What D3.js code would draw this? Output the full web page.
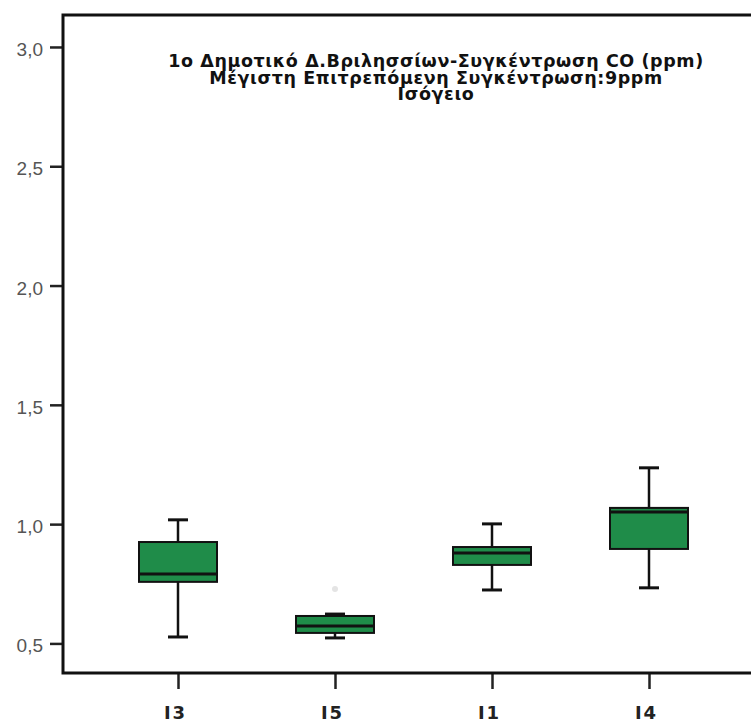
<!DOCTYPE html>
<html>
<head>
<meta charset="utf-8">
<script src="https://cdn.jsdelivr.net/npm/d3@7"></script>
<style>
  html, body { margin: 0; padding: 0; background: #fff; }
  svg { display: block; }
</style>
</head>
<body>
<div id="chart"></div>
<script>
const categories = ["I3", "I5", "I1", "I4"];
const whiskerLow  = [0.527, 0.523, 0.724, 0.733];
const q1          = [0.758, 0.544, 0.829, 0.896];
const median      = [0.791, 0.573, 0.879, 1.051];
const q3          = [0.925, 0.615, 0.904, 1.068];
const whiskerHigh = [1.018, 0.623, 1.001, 1.236];
const outliers    = [{cat: "I5", value: 0.728}];
const yTicks      = [0.5, 1.0, 1.5, 2.0, 2.5, 3.0];
const titleLines  = [
  "1ο Δημοτικό Δ.Βριλησσίων-Συγκέντρωση CO (ppm)",
  "Μέγιστη Επιτρεπόμενη Συγκέντρωση:9ppm",
  "Ισόγειο"
];

const W = 751, H = 724;
const plotLeft = 63, plotTop = 15, plotBottom = 673;

const svg = d3.select("#chart").append("svg")
  .attr("width", W).attr("height", H);

const y = d3.scaleLinear().domain([0.376, 3.134]).range([plotBottom, plotTop]);
const x = d3.scalePoint().domain(categories).range([178, 649]);

const data = categories.map((c, i) => ({
  cat: c, lo: whiskerLow[i], q1: q1[i], med: median[i], q3: q3[i], hi: whiskerHigh[i]
}));

// Y axis
const yAxis = d3.axisLeft(y).tickValues(yTicks)
  .tickFormat(d => d3.format(".1f")(d).replace(".", ","))
  .tickSize(13).tickSizeOuter(0);
const gy = svg.append("g").attr("transform", `translate(${plotLeft},0)`).call(yAxis);
gy.select(".domain").remove();
gy.selectAll(".tick line").attr("stroke", "#222").attr("stroke-width", 2.5);
gy.selectAll(".tick text")
  .attr("x", -20).attr("dy", "0.45em")
  .attr("fill", "#555")
  .style("font-family", "Liberation Sans, Arial, sans-serif")
  .style("font-size", "19px");

// X axis
const xAxis = d3.axisBottom(x).tickSize(16).tickSizeOuter(0);
const gx = svg.append("g").attr("transform", `translate(0,${plotBottom})`).call(xAxis);
gx.select(".domain").remove();
gx.selectAll(".tick line").attr("stroke", "#222").attr("stroke-width", 2.5);
gx.selectAll(".tick text")
  .attr("x", -3).attr("y", 46).attr("dy", 0)
  .attr("fill", "#222")
  .style("font-family", "DejaVu Sans, Verdana, sans-serif")
  .style("font-weight", "bold")
  .style("font-size", "18px")
  .style("letter-spacing", "2px");

// Frame
svg.append("path")
  .attr("d", `M${W + 5},${plotTop} H${plotLeft} V${plotBottom} H${W + 5}`)
  .attr("fill", "none").attr("stroke", "#111").attr("stroke-width", 3);

// Title
const title = svg.append("text")
  .attr("text-anchor", "middle")
  .style("font-family", "DejaVu Sans, Verdana, sans-serif")
  .style("font-weight", "bold")
  .style("font-size", "17.5px")
  .style("letter-spacing", "0.6px")
  .attr("fill", "#111");
titleLines.forEach((t, i) => {
  title.append("tspan").attr("x", 436).attr("y", 67 + i * 16.5).text(t);
});

// Boxes
const hw = 39, cw = 10;
const g = svg.append("g");
const box = g.selectAll("g.box").data(data).join("g").attr("class", "box");

box.append("line")
  .attr("x1", d => x(d.cat)).attr("x2", d => x(d.cat))
  .attr("y1", d => y(d.hi)).attr("y2", d => y(d.lo))
  .attr("stroke", "#111").attr("stroke-width", 2.5);

box.append("rect")
  .attr("x", d => x(d.cat) - hw).attr("width", hw * 2)
  .attr("y", d => y(d.q3)).attr("height", d => y(d.q1) - y(d.q3))
  .attr("fill", "#1f8c49").attr("stroke", "#111").attr("stroke-width", 2);

box.append("line")
  .attr("x1", d => x(d.cat) - hw).attr("x2", d => x(d.cat) + hw)
  .attr("y1", d => y(d.med)).attr("y2", d => y(d.med))
  .attr("stroke", "#111").attr("stroke-width", 3);

["hi", "lo"].forEach(k => {
  box.append("line")
    .attr("x1", d => x(d.cat) - cw).attr("x2", d => x(d.cat) + cw)
    .attr("y1", d => y(d[k])).attr("y2", d => y(d[k]))
    .attr("stroke", "#111").attr("stroke-width", 3);
});

// Outliers (faint)
g.selectAll("circle.out").data(outliers).join("circle")
  .attr("class", "out")
  .attr("cx", d => x(d.cat)).attr("cy", d => y(d.value))
  .attr("r", 3).attr("fill", "#e4e4e4");
</script>
</body>
</html>
